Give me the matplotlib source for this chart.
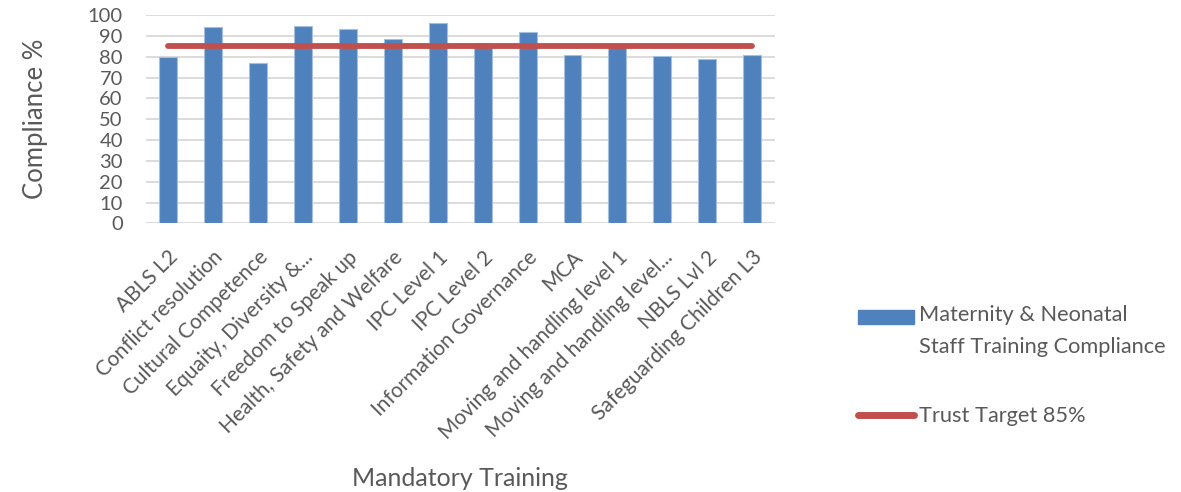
import matplotlib
matplotlib.use("Agg")
import matplotlib.pyplot as plt
from matplotlib.patches import Patch, Rectangle
from matplotlib.lines import Line2D
from matplotlib.legend_handler import HandlerBase

categories = ["ABLS L2", "Conflict resolution", "Cultural Competence",
              "Equaity, Diversity &...", "Freedom to Speak up",
              "Health, Safety and Welfare", "IPC Level 1", "IPC Level 2",
              "Information Governance", "MCA", "Moving and handling level 1",
              "Moving and handling level...", "NBLS Lvl 2", "Safeguarding Children L3"]
compliance = [79.7, 94.4, 77.1, 94.7, 93.1, 88.3, 96.0, 86.4, 92.0, 80.6, 84.6, 80.3, 79.0, 80.8]
target = [85] * len(categories)
yticks = list(range(0, 101, 10))

plt.rcParams['font.family'] = ['Lato', 'DejaVu Sans']
txt = '#595959'
bar_c = '#4F81BD'
line_c = '#C0504D'


class TopAlignedPatch(HandlerBase):
    """Draw the legend rectangle level with the first line of a two-line label."""
    def __init__(self, shift, **kw):
        super().__init__(**kw)
        self.shift = shift

    def create_artists(self, legend, orig_handle, xdescent, ydescent, width,
                       height, fontsize, trans):
        r = Rectangle((-xdescent, -ydescent + self.shift * fontsize), width, height,
                      facecolor=orig_handle.get_facecolor(),
                      edgecolor=orig_handle.get_edgecolor(), transform=trans)
        return [r]


fig = plt.figure(figsize=(11.81, 4.92), dpi=100)
ax = fig.add_axes([0.124, 0.546, 0.532, 0.4235])
x = list(range(len(categories)))
ax.bar(x, compliance, width=0.4, color=bar_c, edgecolor='#A7BFDE', linewidth=0.8, zorder=2)
ax.plot(x, target, color=line_c, linewidth=4.2, solid_capstyle='round', zorder=3)
ax.set_xlim(-0.48, 13.5)
ax.set_ylim(0, 100)
ax.set_yticks(yticks)
ax.yaxis.grid(True, color='#D9D9D9', linewidth=1.3, zorder=0)
ax.set_axisbelow(True)
for s in ax.spines.values():
    s.set_visible(False)
ax.tick_params(axis='both', length=0, colors=txt)
ax.tick_params(axis='y', pad=17, labelsize=14.5)
ax.set_xticks(x)
ax.set_xticklabels(categories, rotation=45, ha='right', rotation_mode='anchor',
                   color=txt, fontsize=15)
ax.tick_params(axis='x', pad=17)
ax.set_ylabel('Compliance %', color=txt, fontsize=18.5)
ax.yaxis.set_label_coords(-0.157, 0.5)
fig.text(460 / 1181, 1 - 478 / 492, 'Mandatory Training', color=txt, fontsize=18,
         ha='center', va='center')

bar_handle = Patch(facecolor=bar_c, edgecolor=bar_c)
line_handle = Line2D([0], [0], color=line_c, linewidth=5, solid_capstyle='round')
labels = ['Maternity & Neonatal\nStaff Training Compliance', 'Trust Target 85%']
leg = fig.legend([bar_handle, line_handle], labels, loc='upper left',
                 bbox_to_anchor=(858 / 1181, 1 - 305 / 492),
                 frameon=False, fontsize=15.7, labelspacing=2.25, handlelength=2.55,
                 handleheight=0.6, handletextpad=0.25, labelcolor=txt,
                 borderpad=0, borderaxespad=0,
                 handler_map={Patch: TopAlignedPatch(0.66)})
for t in leg.get_texts():
    t.set_linespacing(1.75)
fig.savefig('out.png', dpi=100, facecolor='white')
